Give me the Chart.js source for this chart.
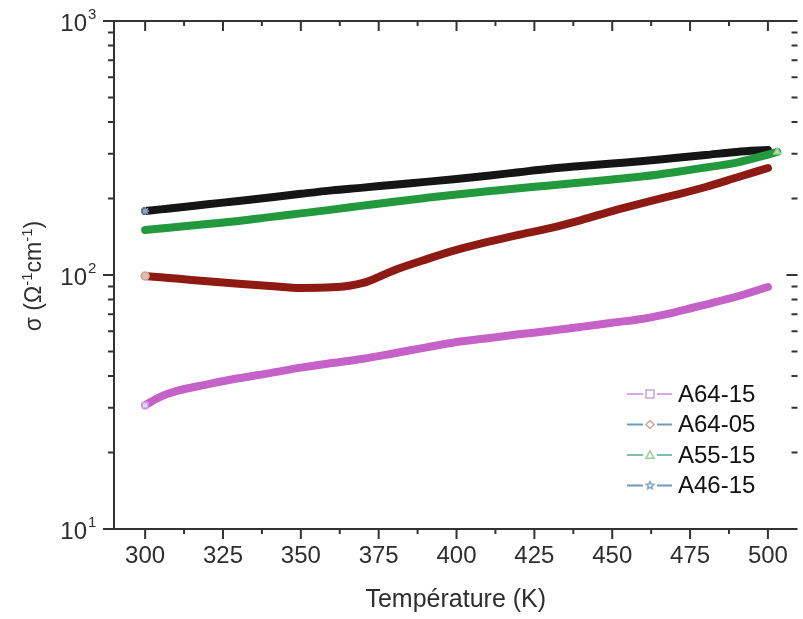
<!DOCTYPE html>
<html>
<head>
<meta charset="utf-8">
<script src="https://cdn.jsdelivr.net/npm/chart.js@4.4.1/dist/chart.umd.min.js"></script>
<style>
  body { margin: 0; background: #fff; }
</style>
</head>
<body>
<canvas id="chart" width="803" height="619"></canvas>
<script>
// temperature grid (K)
const temperature = [300, 305, 310, 320, 330, 340, 350, 360, 370, 380, 390, 400,
                     410, 420, 430, 440, 450, 460, 470, 480, 490, 500, 503];

// conductivity (ohm^-1 cm^-1)
const sigmaA6415 = [30.7, 33.2, 34.9, 37.1, 39.2, 41.1, 43.2, 45.0, 46.8, 49.2, 51.8, 54.5,
                    56.4, 58.4, 60.3, 62.5, 64.9, 67.3, 71.3, 76.5, 82.3, 89.7, null];
const sigmaA6405 = [99.1, 97.9, 96.8, 94.5, 92.4, 90.6, 88.9, 89.4, 93.1, 104.5, 115.0, 125.5,
                    135.0, 144.0, 153.0, 164.6, 178.6, 192.4, 206.2, 222.1, 242.0, 263.8, null];
const sigmaA5515 = [150.4, 152.4, 154.5, 158.7, 163.3, 169.0, 174.8, 180.9, 187.6, 194.4, 201.0, 207.5,
                    213.5, 219.6, 225.3, 231.3, 237.9, 244.7, 254.0, 265.0, 277.0, 297.8, 305.0];
const sigmaA4615 = [178.6, 181.3, 184.0, 189.8, 195.7, 202.0, 208.8, 215.4, 220.8, 226.8, 232.6, 238.8,
                    246.0, 254.0, 262.1, 268.6, 274.8, 281.1, 288.8, 296.8, 305.2, 310.5, null];

const seriesNames = ['A64-15', 'A64-05', 'A55-15', 'A46-15'];
const xTickValues = [300, 325, 350, 375, 400, 425, 450, 475, 500];
const xMinorValues = [312.5, 337.5, 362.5, 387.5, 412.5, 437.5, 462.5, 487.5];
const yTickValues = [10, 100, 1000];
const yTickExponents = ['1', '2', '3'];

const FONT = "'Liberation Sans', Arial, sans-serif";
const INK = '#2e2e2e';

// look of each series: line colour, marker shape, where its marker sits
const seriesStyle = [
  { color: '#c462c8', marker: 'rect', markerAt: 0, legendLine: '#d4a8e0', legendMark: '#c8a2dc' },
  { color: '#8e1a14', marker: 'circle', markerAt: 0, legendLine: '#6e9cbc', legendMark: '#d2a592' },
  { color: '#22993c', marker: 'triangle', markerAt: 22, legendLine: '#7cc2ae', legendMark: '#98d08c' },
  { color: '#151515', marker: 'star', markerAt: 0, legendLine: '#6e9ab8', legendMark: '#86a6c8' }
];
const seriesValues = [sigmaA6415, sigmaA6405, sigmaA5515, sigmaA4615];

const toPoints = (values) => values.map((v, i) => ({ x: temperature[i], y: v }));

const datasets = seriesValues.map((vals, i) => ({
  label: seriesNames[i],
  data: toPoints(vals),
  borderColor: seriesStyle[i].color,
  borderWidth: 8,
  borderCapStyle: 'round',
  borderJoinStyle: 'round',
  cubicInterpolationMode: 'monotone',
  pointStyle: seriesStyle[i].marker,
  pointRadius: (c) => (c.dataIndex === seriesStyle[i].markerAt ? 4 : 0),
  pointBorderColor: seriesStyle[i].legendMark,
  pointBackgroundColor: 'rgba(255,255,255,0.7)',
  pointBorderWidth: 1.5,
  fill: false
}));

function drawMarker(ctx, shape, cx, cy, r) {
  ctx.beginPath();
  if (shape === 'rect') {
    ctx.rect(cx - r, cy - r, 2 * r, 2 * r);
  } else if (shape === 'circle') {
    ctx.moveTo(cx, cy - r); ctx.lineTo(cx + r, cy); ctx.lineTo(cx, cy + r); ctx.lineTo(cx - r, cy); ctx.closePath();
  } else if (shape === 'triangle') {
    ctx.moveTo(cx, cy - r); ctx.lineTo(cx + r, cy + r * 0.8); ctx.lineTo(cx - r, cy + r * 0.8); ctx.closePath();
  } else {
    for (let k = 0; k < 10; k++) {
      const ang = -Math.PI / 2 + k * Math.PI / 5;
      const rr = k % 2 === 0 ? r : r * 0.45;
      const px = cx + rr * Math.cos(ang), py = cy + rr * Math.sin(ang);
      if (k === 0) ctx.moveTo(px, py); else ctx.lineTo(px, py);
    }
    ctx.closePath();
  }
  ctx.stroke();
}

const framePlugin = {
  id: 'frame',
  afterDraw(chart) {
    const { ctx, chartArea: a, scales: { x, y } } = chart;
    ctx.save();
    ctx.strokeStyle = '#333';
    ctx.lineWidth = 2;
    ctx.beginPath();
    ctx.moveTo(a.left - 11, a.top); ctx.lineTo(a.right, a.top);
    ctx.moveTo(a.left - 11, a.bottom); ctx.lineTo(a.right, a.bottom);
    ctx.moveTo(a.left, a.top); ctx.lineTo(a.left, a.bottom);
    xTickValues.forEach(v => {
      const px = x.getPixelForValue(v);
      ctx.moveTo(px, a.bottom); ctx.lineTo(px, a.bottom + 10);
      ctx.moveTo(px, a.top); ctx.lineTo(px, a.top + 10);
    });
    xMinorValues.forEach(v => {
      const px = x.getPixelForValue(v);
      ctx.moveTo(px, a.bottom); ctx.lineTo(px, a.bottom + 5);
      ctx.moveTo(px, a.top); ctx.lineTo(px, a.top + 5);
    });
    [10, 100].forEach(dec => {
      for (let m = 2; m <= 9; m++) {
        const py = y.getPixelForValue(dec * m);
        ctx.moveTo(a.left - 6, py); ctx.lineTo(a.left, py);
        ctx.moveTo(a.right - 6, py); ctx.lineTo(a.right, py);
      }
    });
    const p100 = y.getPixelForValue(100);
    ctx.moveTo(a.left - 11, p100); ctx.lineTo(a.left, p100);
    ctx.moveTo(a.right - 11, p100); ctx.lineTo(a.right, p100);
    ctx.stroke();

    // y tick labels 10^n
    ctx.fillStyle = INK;
    yTickValues.forEach((v, i) => {
      const py = y.getPixelForValue(v);
      ctx.font = '24px ' + FONT;
      ctx.textAlign = 'right';
      ctx.textBaseline = 'alphabetic';
      ctx.fillText('10', 87, py + 9.5);
      ctx.font = '15px ' + FONT;
      ctx.textAlign = 'left';
      ctx.fillText(yTickExponents[i], 88, py - 2);
    });

    // y axis title with superscripts
    ctx.save();
    ctx.translate(41, 276);
    ctx.rotate(-Math.PI / 2);
    const parts = [['σ (Ω', false], ['-1', true], ['cm', false], ['-1', true], [')', false]];
    let total = 0;
    parts.forEach(([t, sup]) => {
      ctx.font = (sup ? '15px ' : '23px ') + FONT;
      total += ctx.measureText(t).width;
    });
    let cx = -total / 2;
    ctx.textAlign = 'left';
    ctx.textBaseline = 'alphabetic';
    parts.forEach(([t, sup]) => {
      ctx.font = (sup ? '15px ' : '23px ') + FONT;
      ctx.fillText(t, cx, sup ? -9 : 0);
      cx += ctx.measureText(t).width;
    });
    ctx.restore();

    // legend
    seriesNames.forEach((name, i) => {
      const ly = 394 + i * 30.5;
      const st = seriesStyle[i];
      ctx.strokeStyle = st.legendLine;
      ctx.lineWidth = 2;
      ctx.beginPath();
      ctx.moveTo(627, ly); ctx.lineTo(643, ly);
      ctx.moveTo(657, ly); ctx.lineTo(672, ly);
      ctx.stroke();
      ctx.strokeStyle = st.legendMark;
      ctx.lineWidth = 1.5;
      drawMarker(ctx, st.marker, 650, ly, 4);
      ctx.fillStyle = '#111';
      ctx.font = '24px ' + FONT;
      ctx.textAlign = 'left';
      ctx.textBaseline = 'middle';
      ctx.fillText(name, 678, ly + 1);
    });
    ctx.restore();
  }
};

new Chart(document.getElementById('chart'), {
  type: 'line',
  data: { datasets },
  plugins: [framePlugin],
  options: {
    responsive: false,
    animation: false,
    layout: { padding: { top: 21, right: 0, left: 0, bottom: 0 } },
    plugins: { legend: { display: false }, tooltip: { enabled: false } },
    scales: {
      x: {
        type: 'linear',
        min: 290,
        max: 509.5,
        afterFit: (s) => { s.height = 90; },
        afterBuildTicks: (s) => { s.ticks = xTickValues.map(v => ({ value: v })); },
        grid: { display: false, drawTicks: false },
        border: { display: false },
        ticks: {
          autoSkip: false,
          maxRotation: 0,
          padding: 13,
          color: INK,
          font: { family: FONT, size: 24 }
        },
        title: {
          display: true,
          text: 'Température (K)',
          color: INK,
          font: { family: FONT, size: 25 },
          padding: { top: 0, bottom: 4 }
        }
      },
      y: {
        type: 'logarithmic',
        min: 10,
        max: 1000,
        afterFit: (s) => { s.width = 114; },
        grid: { display: false, drawTicks: false },
        border: { display: false },
        ticks: { display: false }
      }
    }
  }
});
</script>
</body>
</html>
